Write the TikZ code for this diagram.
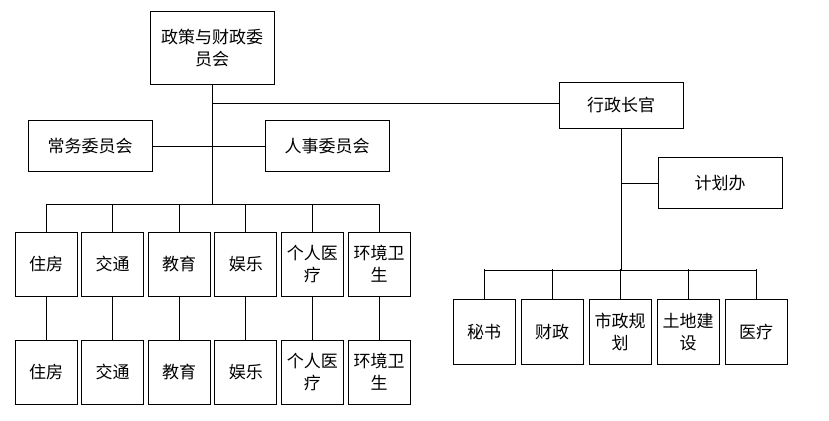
\documentclass[tikz,border=0pt]{standalone}
\usepackage{fontspec}
\newfontfamily\cjk{Noto Sans CJK SC}
\usetikzlibrary{positioning}
\tikzset{box/.style={draw, fill=white, rectangle, align=center, inner sep=0pt,
  font=\cjk\fontsize{17}{22}\selectfont},
  big/.style={box, minimum width=124pt, minimum height=51pt},
  small/.style={box, minimum width=62pt, minimum height=64pt}}

\begin{document}
\begin{tikzpicture}[x=1pt, y=-1pt, line width=0.8pt]
	\useasboundingbox (0,0) rectangle (829,420);
	\node [big, minimum height=73pt] (Board) at (212,48) {政策与财政委\\员会};
	\node [big, minimum height=46pt] (Chief) at (621,105) {行政长官};
	\node [big] (Standing) at (90,146) {常务委员会};
	\node [big] (Personnel) at (327,146) {人事委员会};
	\node [big] (Plan) at (720,183) {计划办};
	% committee rows
	\foreach \name/\txt [count=\i] in {Hous/住房, Traf/交通, Edu/教育, Fun/娱乐, Med/{个人医\\疗}, Env/{环境卫\\生}} {
		\node [small] (\name A) at (46+66.6*\i-66.6,264) {\txt};
		\node [small] (\name B) at (46+66.6*\i-66.6,372) {\txt};
		\draw (\name A) -- (\name B);
		\draw (\name A.north) -- ++(0,-28);
	}
	% departments
	\foreach \name/\txt [count=\i] in {Sec/秘书, Fin/财政, City/{市政规\\划}, Land/{土地建\\设}, Care/医疗} {
		\node [small, minimum height=65pt] (\name) at (484+68*\i-68,332) {\txt};
		\draw (\name.north) -- ++(0,-30);
	}
	\coordinate (Bus) at (212,204);
	\coordinate (RBus) at (621,270);
	\coordinate (Link) at (0,103);
	\draw (Board) -- (Bus);
	\draw (HousA.north |- Bus) -- (EnvA.north |- Bus);
	\draw (Standing) -- (Personnel);
	\draw (Board.south |- Link) -- (Chief.west |- Link);
	\draw (Chief) -- (RBus);
	\draw (Sec.north |- RBus) -- (Care.north |- RBus);
	\draw (Plan) -- (Plan -| Chief);
\end{tikzpicture}
\end{document}
